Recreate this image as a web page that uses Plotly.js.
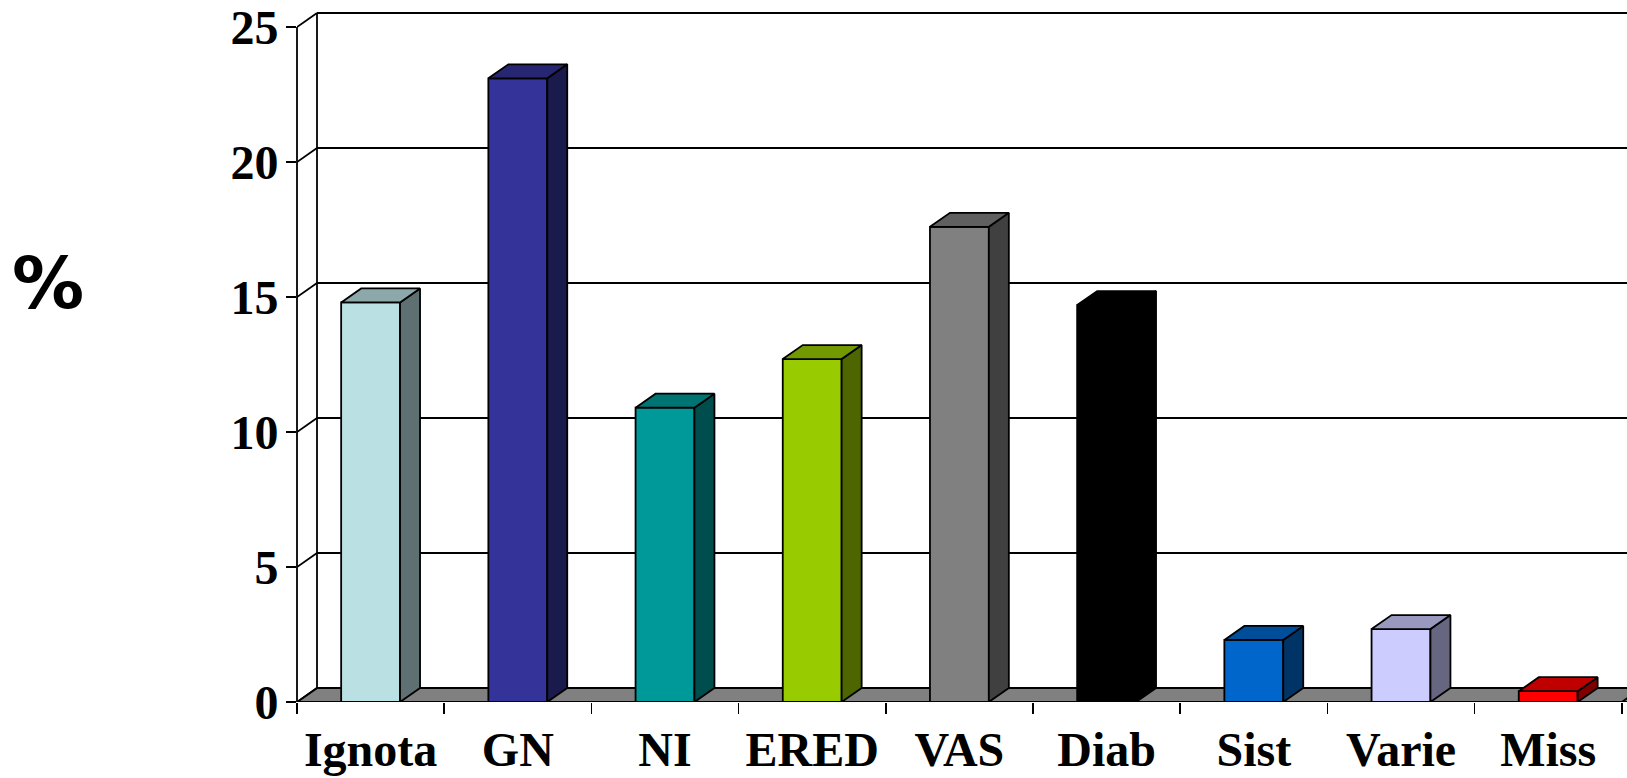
<!DOCTYPE html>
<html>
<head>
<meta charset="utf-8">
<script src="https://cdn.plot.ly/plotly-3.0.1.min.js"></script>
<style>html,body{margin:0;padding:0;background:#fff;}#chart{width:1627px;height:778px;}</style>
</head>
<body>
<div id="chart"></div>
<script>
// ---- data ----
const categories = ['Ignota', 'GN', 'NI', 'ERED', 'VAS', 'Diab', 'Sist', 'Varie', 'Miss'];
const values = [14.8, 23.1, 10.9, 12.7, 17.6, 14.7, 2.3, 2.7, 0.4];
const yTickValues = [0, 5, 10, 15, 20, 25];

// ---- styles ----
const frontColors = ['#BBE0E3', '#333399', '#009999', '#99CC00', '#808080', '#000000', '#0066CC', '#CCCCFF', '#FF0000'];
const topColors   = ['#8CA8AA', '#262673', '#007373', '#739900', '#606060', '#000000', '#004D99', '#9999BF', '#BF0000'];
const sideColors  = ['#5E7072', '#1A1A4D', '#004D4D', '#4D6600', '#404040', '#000000', '#003366', '#666680', '#800000'];

// ---- geometry (pixels) ----
const W = 1627, H = 778;
const ML = 297, MB = 76;
const PX_PER_CAT = 147.2, PX_PER_UNIT = 27;
const DEPTH_X_PX = 20, DEPTH_Y_PX = 14;
const BAR_W = 0.4;
const ddx = DEPTH_X_PX / PX_PER_CAT;
const ddy = DEPTH_Y_PX / PX_PER_UNIT;
const plotW = W - ML, plotH = H - MB;
const xRange = [-0.5, -0.5 + plotW / PX_PER_CAT];
const yRange = [0, plotH / PX_PER_UNIT];
const n = categories.length;
const idx = categories.map((c, i) => i);
const boundaries = [];
for (let i = 0; i <= n; i++) boundaries.push(i - 0.5);
const yMax = yTickValues[yTickValues.length - 1];
const LW = 1.8;

const traces = [];
// front faces
traces.push({
  type: 'bar', x: idx, y: values, width: BAR_W,
  marker: {color: frontColors, line: {color: '#000', width: LW}},
  hoverinfo: 'skip', showlegend: false
});
// side + top faces
values.forEach((v, i) => {
  const xl = i - BAR_W / 2, xr = i + BAR_W / 2;
  traces.push({
    type: 'scatter', mode: 'lines', fill: 'toself', fillcolor: sideColors[i],
    x: [xr, xr + ddx, xr + ddx, xr, xr],
    y: [0, ddy, v + ddy, v, 0],
    line: {color: '#000', width: LW}, hoverinfo: 'skip', showlegend: false
  });
  traces.push({
    type: 'scatter', mode: 'lines', fill: 'toself', fillcolor: topColors[i],
    x: [xl, xl + ddx, xr + ddx, xr, xl],
    y: [v, v + ddy, v + ddy, v, v],
    line: {color: '#000', width: LW}, hoverinfo: 'skip', showlegend: false
  });
});
// dummy trace for boundary-tick axis
traces.push({type: 'scatter', mode: 'markers', x: [0], y: [0], xaxis: 'x2', yaxis: 'y',
  marker: {opacity: 0}, hoverinfo: 'skip', showlegend: false});

const shapes = [];
// floor
shapes.push({
  type: 'path', xref: 'x', yref: 'y', layer: 'below',
  path: `M ${boundaries[0]} 0 L ${boundaries[n] + 1} 0 L ${boundaries[n] + 1 + ddx} ${ddy} L ${boundaries[0] + ddx} ${ddy} Z`,
  fillcolor: '#808080', line: {color: '#000', width: LW}
});
// front floor edge
shapes.push({type: 'line', xref: 'x', yref: 'y', layer: 'below', x0: boundaries[0], x1: boundaries[n], y0: 0, y1: 0,
  line: {color: '#000', width: LW}});
// floor right edge diagonal
shapes.push({type: 'line', xref: 'x', yref: 'y', layer: 'below', x0: boundaries[n], x1: boundaries[n] + ddx, y0: 0, y1: ddy,
  line: {color: '#000', width: LW}});
// back gridlines + left wall diagonals
yTickValues.forEach(v => {
  shapes.push({type: 'line', xref: 'x', yref: 'y', layer: 'below',
    x0: boundaries[0] + ddx, x1: boundaries[n] + 2, y0: v + ddy, y1: v + ddy,
    line: {color: '#000', width: LW}});
  shapes.push({type: 'line', xref: 'x', yref: 'y', layer: 'below',
    x0: boundaries[0], x1: boundaries[0] + ddx, y0: v, y1: v + ddy,
    line: {color: '#000', width: LW}});
});
// back wall vertical edge
shapes.push({type: 'line', xref: 'x', yref: 'y', layer: 'below',
  x0: boundaries[0] + ddx, x1: boundaries[0] + ddx, y0: ddy, y1: yMax + ddy,
  line: {color: '#000', width: LW}});
// front vertical axis line
shapes.push({type: 'line', xref: 'paper', yref: 'y', layer: 'above',
  x0: 0, x1: 0, y0: 0, y1: yMax, line: {color: '#000', width: LW}});

const tickFont = {family: 'Liberation Serif, Times New Roman, serif', size: 48, color: '#000', weight: 'bold'};

const layout = {
  width: W, height: H,
  margin: {l: ML, r: 0, t: 0, b: MB, pad: 0},
  paper_bgcolor: '#fff', plot_bgcolor: 'rgba(0,0,0,0)',
  showlegend: false,
  xaxis: {
    range: xRange, tickmode: 'array', tickvals: idx, ticktext: categories,
    ticks: '', showgrid: false, zeroline: false, showline: false,
    ticklabelstandoff: 15,
    tickfont: tickFont, fixedrange: true
  },
  xaxis2: {
    overlaying: 'x', anchor: 'y', range: xRange, tickmode: 'array', tickvals: boundaries,
    ticks: 'outside', ticklen: 11, tickwidth: 1.5, tickcolor: '#000',
    showticklabels: false, showgrid: false, zeroline: false, showline: false, fixedrange: true
  },
  yaxis: {
    range: yRange, tickmode: 'array', tickvals: yTickValues,
    ticks: 'outside', ticklen: 10, tickwidth: 1.5, tickcolor: '#000',
    showgrid: false, zeroline: false, showline: false,
    ticklabelstandoff: -2,
    tickfont: tickFont, fixedrange: true
  },
  shapes: shapes,
  annotations: [{
    text: '%', xref: 'paper', yref: 'paper',
    x: (48 - ML) / plotW, y: (plotH - 283) / plotH,
    xanchor: 'center', yanchor: 'middle', showarrow: false,
    font: {family: 'DejaVu Sans, Verdana, sans-serif', size: 72, color: '#000', weight: 'bold'}
  }]
};

Plotly.newPlot('chart', traces, layout, {displayModeBar: false, staticPlot: true});
</script>
</body>
</html>
